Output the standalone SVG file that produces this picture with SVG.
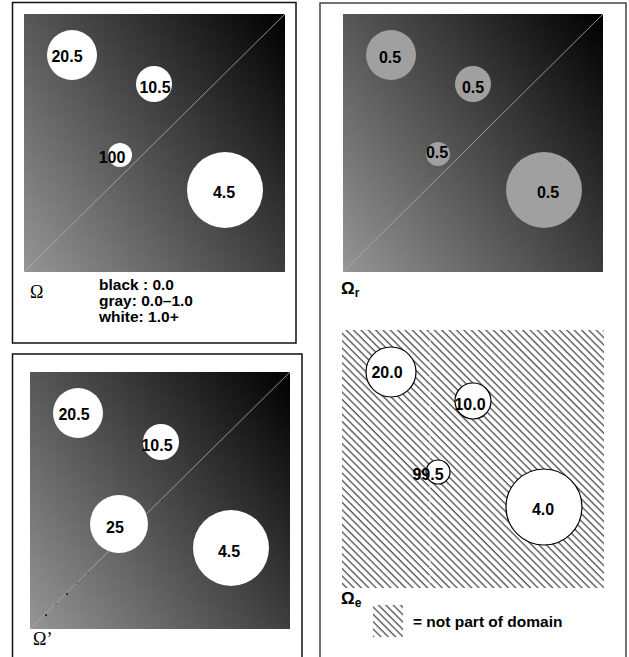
<svg xmlns="http://www.w3.org/2000/svg" width="629" height="657" viewBox="0 0 629 657">
  <style>
    .frame { fill: none; stroke: #111; stroke-width: 1.5; }
    .frame2 { fill: none; stroke: #444; stroke-width: 1.5; }
    .field { fill: url(#shade); }
    .diag { stroke: #b0b0b0; stroke-width: 0.8; fill: none; }
    .hole { fill: #fff; }
    .holeR { fill: #a0a0a0; }
    .holeE { fill: #fff; stroke: #000; stroke-width: 1.2; }
    .lbl { font-family: "Liberation Sans", Arial, sans-serif; font-weight: bold; font-size: 16px; fill: #000; text-anchor: middle; }
    .leg { font-family: "Liberation Sans", Arial, sans-serif; font-weight: bold; font-size: 15.5px; fill: #000; }
    .om { font-family: "Liberation Serif", "Times New Roman", serif; font-size: 18px; fill: #000; }
    .omb { font-family: "Liberation Sans", Arial, sans-serif; font-weight: bold; font-size: 17px; fill: #000; }
    .sub { font-family: "Liberation Sans", Arial, sans-serif; font-weight: bold; font-size: 12px; fill: #000; }
  </style>
  <defs>
    <linearGradient id="shade" x1="1" y1="0" x2="-0.14" y2="0.8">
      <stop offset="0" stop-color="#000"/>
      <stop offset="1" stop-color="#959595"/>
    </linearGradient>
    <pattern id="hatch" patternUnits="userSpaceOnUse" width="5.2" height="10" patternTransform="rotate(-45)">
      <line x1="1" y1="-1" x2="1" y2="11" stroke="#000" stroke-width="0.9"/>
    </pattern>
  </defs>

  <!-- panel: original field -->
  <g id="panel-omega">
    <rect class="frame" x="12.5" y="2.5" width="283.5" height="340.5"/>
    <rect class="field" x="24" y="14" width="261" height="258"/>
    <line class="diag" x1="24" y1="272" x2="285" y2="14"/>
    <circle class="hole" cx="72" cy="55" r="25"/>
    <circle class="hole" cx="154" cy="84" r="18"/>
    <circle class="hole" cx="120" cy="155" r="12"/>
    <circle class="hole" cx="225" cy="190" r="38"/>
    <text class="lbl" x="67" y="62">20.5</text>
    <text class="lbl" x="155" y="93">10.5</text>
    <text class="lbl" x="112" y="163">100</text>
    <text class="lbl" x="224" y="198">4.5</text>
    <text class="om" x="30" y="298">Ω</text>
    <text class="leg" x="99" y="290">black : 0.0</text>
    <text class="leg" x="99" y="306">gray: 0.0–1.0</text>
    <text class="leg" x="99" y="322">white: 1.0+</text>
  </g>

  <!-- panel: rescaled field -->
  <g id="panel-omega-r">
    <rect class="frame2" x="320" y="3" width="306" height="660"/>
    <rect class="field" x="343" y="14" width="260" height="258"/>
    <line class="diag" x1="343" y1="272" x2="603" y2="14"/>
    <circle class="holeR" cx="391" cy="55" r="25"/>
    <circle class="holeR" cx="473" cy="84" r="18"/>
    <circle class="holeR" cx="438" cy="154" r="12"/>
    <circle class="holeR" cx="544" cy="190" r="38"/>
    <text class="lbl" x="390" y="63">0.5</text>
    <text class="lbl" x="473" y="93">0.5</text>
    <text class="lbl" x="437" y="158">0.5</text>
    <text class="lbl" x="548" y="198">0.5</text>
    <text class="omb" x="341" y="294">Ω<tspan class="sub" dy="3">r</tspan></text>
  </g>

  <!-- panel: excluded region -->
  <g id="panel-omega-e">
    <rect x="342" y="330" width="262" height="258" fill="url(#hatch)"/>
    <line x1="430" y1="330" x2="430" y2="588" stroke="#fff" stroke-width="1" stroke-dasharray="3 2"/>
    <circle class="holeE" cx="391" cy="372" r="25"/>
    <circle class="holeE" cx="473" cy="401" r="18"/>
    <circle class="holeE" cx="438" cy="472" r="12"/>
    <circle class="holeE" cx="544" cy="507" r="38"/>
    <text class="lbl" x="387" y="378">20.0</text>
    <text class="lbl" x="470" y="410">10.0</text>
    <text class="lbl" x="428" y="480">99.5</text>
    <text class="lbl" x="543" y="515">4.0</text>
    <text class="omb" x="341" y="604">Ω<tspan class="sub" dy="3">e</tspan></text>
    <rect x="373" y="605" width="30" height="32" fill="url(#hatch)"/>
    <text class="leg" x="413" y="627">= not part of domain</text>
  </g>

  <!-- panel: modified field -->
  <g id="panel-omega-prime">
    <rect class="frame" x="12.5" y="354" width="289.5" height="310"/>
    <rect class="field" x="30" y="372" width="260" height="257"/>
    <line class="diag" x1="30" y1="629" x2="290" y2="372"/>
    <g fill="#000">
      <circle cx="46" cy="615" r="0.9"/>
      <circle cx="56" cy="604" r="0.6"/>
      <circle cx="67" cy="594" r="0.9"/>
      <circle cx="77" cy="583" r="0.6"/>
      <circle cx="88" cy="573" r="0.5"/>
      <circle cx="162" cy="500" r="0.6"/>
    </g>
    <circle class="hole" cx="78" cy="413" r="25"/>
    <circle class="hole" cx="161" cy="442" r="18"/>
    <circle class="hole" cx="119" cy="524" r="29"/>
    <circle class="hole" cx="231" cy="548" r="38"/>
    <text class="lbl" x="74" y="420">20.5</text>
    <text class="lbl" x="157" y="451">10.5</text>
    <text class="lbl" x="115" y="533">25</text>
    <text class="lbl" x="229" y="557">4.5</text>
    <text class="om" x="33" y="645">Ω’</text>
  </g>
</svg>
